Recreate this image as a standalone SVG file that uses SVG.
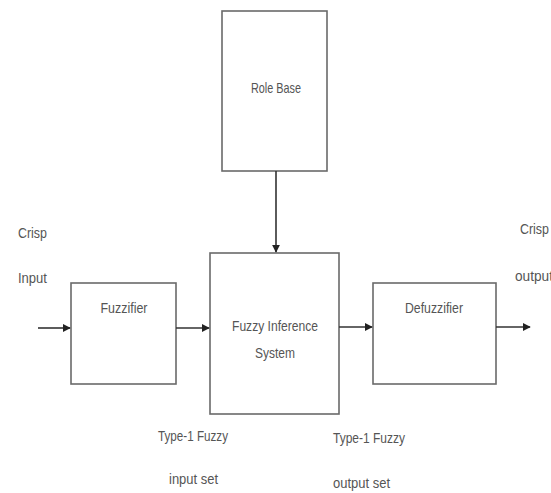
<svg xmlns="http://www.w3.org/2000/svg" width="551" height="493" viewBox="0 0 551 493">
<defs>
<style>
.box{fill:#fff;stroke:#6a6a6a;stroke-width:1.6}
.t{font-family:"Liberation Sans",Arial,sans-serif;font-size:15px;fill:#555}
.c{stroke:#333;stroke-width:1.6;fill:none;marker-end:url(#ah)}
</style>
<marker id="ah" viewBox="0 0 10 10" refX="9" refY="5" markerWidth="5" markerHeight="5" orient="auto" markerUnits="strokeWidth">
<path d="M0,0 L10,5 L0,10 z" fill="#222"/>
</marker>
</defs>
<rect width="551" height="493" fill="#fff"/>
<g id="rulebase"><rect class="box" x="222" y="11" width="105" height="160"/>
<text class="t" x="276" y="93" text-anchor="middle" textLength="50" lengthAdjust="spacingAndGlyphs">Role Base</text></g>
<g id="fis"><rect class="box" x="210" y="253" width="129" height="161"/>
<text class="t" x="275" y="331" text-anchor="middle" textLength="86" lengthAdjust="spacingAndGlyphs">Fuzzy Inference</text>
<text class="t" x="275" y="358" text-anchor="middle" textLength="40" lengthAdjust="spacingAndGlyphs">System</text></g>
<g id="fuzzifier"><rect class="box" x="71" y="283" width="105" height="101"/>
<text class="t" x="124" y="313" text-anchor="middle" textLength="47" lengthAdjust="spacingAndGlyphs">Fuzzifier</text></g>
<g id="defuzzifier"><rect class="box" x="373" y="283" width="123" height="101"/>
<text class="t" x="434" y="313" text-anchor="middle" textLength="58" lengthAdjust="spacingAndGlyphs">Defuzzifier</text></g>
<g id="labels">
<text class="t" x="18" y="238" textLength="29" lengthAdjust="spacingAndGlyphs">Crisp</text>
<text class="t" x="18" y="283" textLength="29" lengthAdjust="spacingAndGlyphs">Input</text>
<text class="t" x="520" y="234" textLength="29" lengthAdjust="spacingAndGlyphs">Crisp</text>
<text class="t" x="515" y="281" textLength="38" lengthAdjust="spacingAndGlyphs">output</text>
<text class="t" x="158" y="441" textLength="70" lengthAdjust="spacingAndGlyphs">Type-1 Fuzzy</text>
<text class="t" x="169" y="484" textLength="49" lengthAdjust="spacingAndGlyphs">input set</text>
<text class="t" x="333" y="443" textLength="72" lengthAdjust="spacingAndGlyphs">Type-1 Fuzzy</text>
<text class="t" x="333" y="488" textLength="57" lengthAdjust="spacingAndGlyphs">output set</text>
</g>
<g id="connectors">
<line class="c" x1="276" y1="171" x2="276" y2="252"/>
<line class="c" x1="38" y1="328" x2="70" y2="328"/>
<line class="c" x1="176" y1="328" x2="209" y2="328"/>
<line class="c" x1="339" y1="327" x2="372" y2="327"/>
<line class="c" x1="496" y1="327" x2="530" y2="327"/>
</g>
</svg>
